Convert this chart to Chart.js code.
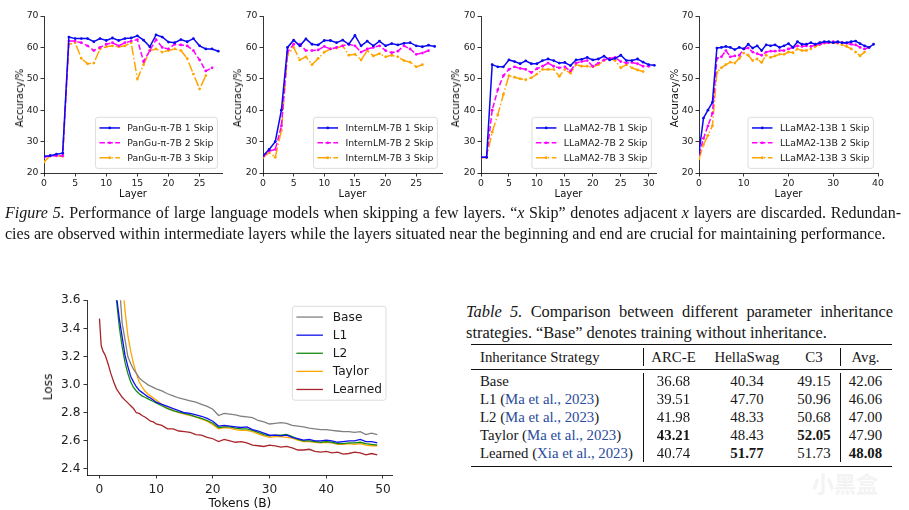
<!DOCTYPE html>
<html>
<head>
<meta charset="utf-8">
<script src="https://cdn.jsdelivr.net/npm/chart.js@4.4.0/dist/chart.umd.min.js"></script>
<style>
  html, body { margin: 0; padding: 0; background: #fff; }
  #page { position: relative; width: 909px; height: 510px; overflow: hidden; }
  canvas { position: absolute; }
  .lbl { position: absolute; font-family: "DejaVu Sans", sans-serif; color: #111; white-space: nowrap; line-height: 1; }
  .ylbl { transform: translate(-50%, -50%) rotate(-90deg); }
  .xlbl { transform: translate(-50%, -50%); }
  .serif { position: absolute; font-family: "Liberation Serif", "Times New Roman", serif; color: #161616; white-space: nowrap; }
  .just { text-align: justify; text-align-last: justify; white-space: normal; }
  .cite { color: #2a4b9c; }
  .rule { position: absolute; background: #111; }
  .num { position: absolute; transform: translateX(-50%); }
  .wm { position: absolute; font-family: "Noto Sans CJK SC", sans-serif; font-weight: 700; color: #f3f3f3; }
</style>
</head>
<body>
<div id="page">
  <canvas id="c1"></canvas>
  <canvas id="c2"></canvas>
  <canvas id="c3"></canvas>
  <canvas id="c4"></canvas>
  <canvas id="loss"></canvas>
</div>
<script>
// ---- Figure 5 data: accuracy per skipped layer ----
const accTicks = [20, 30, 40, 50, 60, 70];

const pangu1 = [25.3, 25.5, 26, 26.3, 63.3, 62.8, 62.8, 62.8, 61.8, 62.8, 62.2, 63, 62.2, 62.8, 63, 63.7, 62.3, 60.2, 64, 63.3, 61.7, 61.5, 62.5, 61.8, 62.8, 60.5, 59.5, 59.5, 58.8];
const pangu2 = [25, 25.5, 25.5, 25.5, 62, 62, 61.5, 60.5, 59, 60, 61, 61.5, 60.5, 61.5, 62, 62.5, 55.5, 59, 62.5, 60, 59.5, 61, 60.8, 60.5, 59, 56, 52.5, 53.5];
const pangu3 = [23.5, 25.5, 25.5, 25.3, 61, 61.5, 56.5, 54.8, 55, 59.5, 60.2, 60.5, 60.2, 60.5, 61.5, 50, 54.5, 59, 59.5, 58.5, 59, 59.5, 59, 56.5, 51.5, 46.8, 51];

const intern1 = [25.5, 27.5, 30, 40, 60, 62.3, 60.5, 62.7, 61, 60.8, 62.2, 62.2, 61.5, 62.3, 61, 63.8, 60.5, 62, 60.5, 62, 60.5, 61.2, 60.8, 61.3, 61.5, 60.5, 60.2, 60.7, 60.3];
const intern2 = [25.3, 27, 27.5, 35, 58.5, 61, 61, 59, 59, 59.2, 60.3, 59.5, 60, 60.5, 61, 60.5, 58.5, 59.5, 60, 60.5, 59, 58.3, 58.8, 60.5, 59.5, 57.8, 58.2, 59];
const intern3 = [25, 26.5, 25, 33.5, 57.5, 60, 56, 57, 54.5, 56.5, 58.5, 59.5, 59.8, 60.5, 57.5, 57.8, 56, 59, 57.3, 58, 57, 57.5, 57, 55.8, 55.3, 53.8, 54.5];

const llama7b1 = [25, 25, 54.5, 53.8, 53.8, 56, 55.5, 54.8, 55.7, 54.8, 54.8, 55.8, 56.3, 55.8, 55, 55.2, 54.2, 56, 56.2, 56.8, 56, 56.3, 57.2, 56, 56.5, 57.5, 55.8, 55.8, 56.3, 55.3, 54.5, 54.3];
const llama7b2 = [25, 25, 40, 46.5, 51, 53, 53.8, 53.3, 53, 52, 53.2, 54, 55, 54, 53.5, 53.8, 52.5, 55, 55.5, 55.8, 54, 55, 56, 56.5, 56.8, 55.5, 55, 55.2, 54.8, 54, 54];
const llama7b3 = [24.8, 25, 33, 38.5, 45, 51, 50.5, 50, 49.7, 50.3, 51.5, 53, 53, 53, 50.8, 53, 51.8, 54.5, 54, 54, 53.8, 54.5, 55.8, 56.5, 55.8, 53.5, 54.5, 53.5, 52.8, 52.3];

const llama13b1 = [26.5, 37.5, 40, 42.5, 59.8, 60, 60.3, 60, 59.3, 60, 59.5, 61, 59.8, 60.5, 59, 60.8, 60.5, 60.8, 60, 60.5, 61.2, 60, 61.8, 61, 61, 61.5, 61, 61.5, 61.8, 61.8, 61.5, 61.8, 61.5, 61.5, 61.8, 62, 61.2, 60.5, 60, 61];
const llama13b2 = [26, 31, 35, 39, 56.5, 57, 59, 57, 57.3, 57.5, 59.5, 59.8, 58.5, 58, 57.5, 58.5, 58.8, 58.8, 59, 59, 59.5, 60, 60.5, 60.3, 60.5, 60.3, 60.8, 61, 61.5, 61.5, 61.8, 61.5, 61.5, 61.3, 61, 60.8, 60, 59.5, 60];
const llama13b3 = [24.5, 29, 32, 35, 52, 53.5, 54.5, 55.3, 55, 56.5, 58.2, 57.5, 55.8, 56.3, 55.2, 57.5, 56.8, 57.3, 57.8, 57.8, 58.5, 58.3, 59.5, 59, 59, 59.5, 60.3, 61, 61.3, 61.5, 61.5, 61.3, 60.8, 60.3, 59.5, 58.5, 57.3, 58.5];

// ---- training loss curves ----
const lossTicksX = [0, 10, 20, 30, 40, 50];
const lossTicksY = [2.4, 2.6, 2.8, 3.0, 3.2, 3.4, 3.6];
const tokens = [0, 0.3, 0.6, 1, 1.5, 2, 2.5, 3, 3.5, 4, 4.5, 5, 5.5, 6, 6.5, 7, 7.5, 8, 8.5, 9, 9.5, 10,
  11, 12, 13, 14, 15, 16, 17, 18, 19, 20, 21, 22, 23, 24, 25, 26, 27, 28, 29, 30,
  31, 32, 33, 34, 35, 36, 37, 38, 39, 40, 41, 42, 43, 44, 45, 46, 47, 48, 49];
const lossBase = [null, null, null, null, null, null, null, null, 3.72, 3.44, 3.32, 3.2, 3.15, 3.11, 3.08, 3.05, 3.03, 3.015, 3.0, 2.99, 2.98, 2.97,
  2.955, 2.935, 2.92, 2.905, 2.895, 2.885, 2.875, 2.86, 2.845, 2.825, 2.78, 2.795, 2.79, 2.785, 2.775, 2.77, 2.765, 2.745, 2.735, 2.72,
  2.725, 2.73, 2.725, 2.71, 2.705, 2.7, 2.69, 2.685, 2.68, 2.68, 2.675, 2.67, 2.665, 2.665, 2.66, 2.665, 2.645, 2.655, 2.645];
const lossL1 = [null, null, null, null, null, null, 3.85, 3.63, 3.47, 3.34, 3.21, 3.13, 3.06, 3.02, 2.985, 2.96, 2.945, 2.93, 2.915, 2.905, 2.89, 2.875,
  2.86, 2.845, 2.83, 2.815, 2.8, 2.795, 2.785, 2.775, 2.76, 2.74, 2.705, 2.71, 2.705, 2.7, 2.695, 2.7, 2.68, 2.67, 2.655, 2.64,
  2.64, 2.635, 2.64, 2.625, 2.615, 2.605, 2.61, 2.6, 2.6, 2.605, 2.6, 2.59, 2.595, 2.6, 2.6, 2.61, 2.595, 2.595, 2.585];
const lossL2 = [null, null, null, null, null, null, 3.85, 3.6, 3.41, 3.27, 3.16, 3.08, 3.02, 2.98, 2.955, 2.935, 2.92, 2.91, 2.9, 2.89, 2.88, 2.87,
  2.85, 2.83, 2.815, 2.805, 2.795, 2.785, 2.77, 2.76, 2.745, 2.725, 2.695, 2.7, 2.7, 2.69, 2.685, 2.685, 2.675, 2.66, 2.645, 2.635,
  2.64, 2.64, 2.645, 2.63, 2.61, 2.6, 2.6, 2.595, 2.59, 2.595, 2.59, 2.58, 2.58, 2.585, 2.585, 2.59, 2.58, 2.575, 2.57];
const lossTaylor = [null, null, null, null, null, null, null, null, null, 3.75, 3.53, 3.35, 3.24, 3.15, 3.08, 3.02, 2.985, 2.955, 2.935, 2.92, 2.905, 2.89,
  2.86, 2.835, 2.815, 2.8, 2.79, 2.78, 2.77, 2.755, 2.74, 2.715, 2.685, 2.695, 2.69, 2.68, 2.675, 2.675, 2.665, 2.65, 2.635, 2.625,
  2.63, 2.63, 2.625, 2.62, 2.605, 2.595, 2.595, 2.59, 2.585, 2.59, 2.585, 2.575, 2.575, 2.58, 2.575, 2.58, 2.57, 2.565, 2.565];
const lossLearned = [3.47, 3.28, 3.24, 3.21, 3.15, 3.08, 3.02, 2.97, 2.94, 2.91, 2.89, 2.87, 2.85, 2.83, 2.8, 2.795, 2.78, 2.77, 2.755, 2.74, 2.735, 2.72,
  2.71, 2.685, 2.685, 2.67, 2.665, 2.66, 2.645, 2.64, 2.625, 2.615, 2.595, 2.61, 2.6, 2.59, 2.595, 2.585, 2.57, 2.565, 2.56, 2.57,
  2.565, 2.555, 2.56, 2.55, 2.535, 2.535, 2.54, 2.525, 2.52, 2.525, 2.515, 2.52, 2.505, 2.51, 2.52, 2.515, 2.5, 2.51, 2.5];

// ---- Table 5 ----
const strategies = ["Base", "L1", "L2", "Taylor", "Learned"];
const citations = ["", "Ma et al., 2023", "Ma et al., 2023", "Ma et al., 2023", "Xia et al., 2023"];
const tableCols = ["ARC-E", "HellaSwag", "C3", "Avg."];
const arcE = [36.68, 39.51, 41.98, 43.21, 40.74];
const hellaSwag = [40.34, 47.70, 48.33, 48.43, 51.77];
const c3 = [49.15, 50.96, 50.68, 52.05, 51.73];
const avgScore = [42.06, 46.06, 47.00, 47.90, 48.08];

(() => {
  const page = document.getElementById("page");

  // matplotlib-like dash patterns
  const DASH = [5.5, 2.4];
  const DASHDOT = [9.6, 2.4, 1.5, 2.4];

  function addDiv(cls, html, style) {
    const d = document.createElement("div");
    d.className = cls;
    d.innerHTML = html;
    Object.assign(d.style, style);
    page.appendChild(d);
    return d;
  }

  // legend drawn inside the axes with a rounded frame
  const boxLegend = {
    id: "boxLegend",
    afterDatasetsDraw(chart, args, o) {
      if (!o || !o.size) return;
      const ctx = chart.ctx;
      const area = chart.chartArea;
      const items = chart.data.datasets;
      ctx.save();
      ctx.font = `${o.size}px "DejaVu Sans"`;
      const textW = Math.max(...items.map((d) => ctx.measureText(d.label).width));
      const w = o.padX * 2 + o.handle + o.gap + textW;
      const h = o.padY * 2 + o.row * items.length;
      const x0 = area.right - o.inset - w;
      const y0 = o.corner === "upper right" ? area.top + o.inset : area.bottom - o.inset - h;

      ctx.beginPath();
      ctx.roundRect(x0, y0, w, h, 2.5);
      ctx.fillStyle = "rgba(255,255,255,0.85)";
      ctx.fill();
      ctx.strokeStyle = "#d4d4d4";
      ctx.lineWidth = 0.8;
      ctx.stroke();

      items.forEach((d, i) => {
        const cy = y0 + o.padY + o.row * (i + 0.5);
        const hx = x0 + o.padX;
        ctx.beginPath();
        ctx.setLineDash(d.borderDash || []);
        ctx.strokeStyle = d.borderColor;
        ctx.lineWidth = d.borderWidth;
        ctx.moveTo(hx, cy);
        ctx.lineTo(hx + o.handle, cy);
        ctx.stroke();
        ctx.setLineDash([]);
        if (d.pointRadius) {
          ctx.beginPath();
          ctx.fillStyle = d.borderColor;
          ctx.arc(hx + o.handle / 2, cy, d.pointRadius, 0, Math.PI * 2);
          ctx.fill();
        }
        ctx.fillStyle = "#1a1a1a";
        ctx.textBaseline = "middle";
        ctx.fillText(d.label, hx + o.handle + o.gap, cy + 0.5);
      });
      ctx.restore();
    },
  };

  function axis(c, fit) {
    return {
      type: "linear",
      min: c.min,
      max: c.max,
      afterBuildTicks: (s) => { s.ticks = c.ticks.map((v) => ({ value: v })); },
      afterFit: fit,
      border: { display: true, color: "#000", width: 0.8 },
      grid: { drawOnChartArea: false, drawTicks: true, tickLength: 3.5, tickWidth: 0.8, tickColor: "#000" },
      ticks: {
        color: "#222",
        font: { family: "DejaVu Sans", size: c.fs },
        padding: c.pad ?? 2,
        maxRotation: 0,
        autoSkip: false,
        callback: (v) => v.toFixed(c.dp || 0),
      },
    };
  }

  // box = plot area in page pixels, m = room around it for ticks
  function makeChart(id, box, m, datasets, xCfg, yCfg, legend) {
    const cv = document.getElementById(id);
    const w = box.r - box.l + m.l + m.r;
    const h = box.b - box.t + m.t + m.b;
    cv.width = w;
    cv.height = h;
    cv.style.left = box.l - m.l + "px";
    cv.style.top = box.t - m.t + "px";
    cv.style.width = w + "px";
    cv.style.height = h + "px";

    return new Chart(cv, {
      type: "line",
      data: { datasets },
      options: {
        responsive: false,
        animation: false,
        devicePixelRatio: 1,
        layout: { padding: { left: 0, top: m.t, right: m.r, bottom: 0 } },
        plugins: { legend: { display: false }, tooltip: { enabled: false }, boxLegend: legend },
        scales: {
          x: axis(xCfg, (s) => { s.height = m.b; }),
          y: axis(yCfg, (s) => { s.width = m.l; }),
        },
      },
      plugins: [boxLegend],
    });
  }

  function skipSet(name, series) {
    const styles = [
      { color: "#0a0af0", dash: [] },
      { color: "#ff00ff", dash: DASH },
      { color: "#ffa500", dash: DASHDOT },
    ];
    return series.map((arr, k) => ({
      label: `${name} ${k + 1} Skip`,
      data: arr.map((v, i) => ({ x: i, y: v })),
      borderColor: styles[k].color,
      backgroundColor: styles[k].color,
      borderDash: styles[k].dash,
      borderWidth: 1.5,
      pointRadius: 1.4,
      pointBorderWidth: 0,
      pointBackgroundColor: styles[k].color,
      tension: 0,
      fill: false,
    }));
  }

  const topM = { l: 24, t: 10, r: 10, b: 20 };
  const accY = { fs: 9.3, min: 20, max: 70, ticks: accTicks };
  const topLegend = { size: 9.3, handle: 20.5, gap: 7.4, padX: 4, padY: 3.2, row: 14.9, inset: 4.6, corner: "lower right" };

  const panels = [
    { id: "c1", name: "PanGu-π-7B", series: [pangu1, pangu2, pangu3], box: { l: 44, r: 222, t: 16, b: 173 }, xmax: 28.6, ticks: [0, 5, 10, 15, 20, 25], ylab: 20 },
    { id: "c2", name: "InternLM-7B", series: [intern1, intern2, intern3], box: { l: 263, r: 442, t: 16, b: 173 }, xmax: 29.2, ticks: [0, 5, 10, 15, 20, 25], ylab: 237.5 },
    { id: "c3", name: "LLaMA2-7B", series: [llama7b1, llama7b2, llama7b3], box: { l: 481, r: 656, t: 16, b: 173 }, xmax: 31.3, ticks: [0, 5, 10, 15, 20, 25, 30], ylab: 456 },
    { id: "c4", name: "LLaMA2-13B", series: [llama13b1, llama13b2, llama13b3], box: { l: 699, r: 878, t: 16, b: 173 }, xmax: 40, ticks: [0, 10, 20, 30, 40], ylab: 674.5 },
  ];

  panels.forEach((p) => {
    makeChart(p.id, p.box, topM, skipSet(p.name, p.series),
      { fs: 9.3, min: 0, max: p.xmax, ticks: p.ticks }, accY, topLegend);
    addDiv("lbl ylbl", "Accuracy/%", { left: p.ylab + "px", top: "98px", fontSize: "10px" });
    addDiv("lbl xlbl", "Layer", { left: (p.box.l + p.box.r) / 2 + "px", top: "194px", fontSize: "10px" });
  });

  // loss chart
  const lossColors = ["#808080", "#1010f0", "#138a13", "#ffa500", "#a8262a"];
  const lossSeries = [["Base", lossBase], ["L1", lossL1], ["L2", lossL2], ["Taylor", lossTaylor], ["Learned", lossLearned]];
  const lossSets = lossSeries.map(([label, arr], k) => ({
    label,
    data: arr.map((v, i) => ({ x: tokens[i], y: v })),
    borderColor: lossColors[k],
    backgroundColor: lossColors[k],
    borderWidth: 1.3,
    pointRadius: 0,
    tension: 0,
    spanGaps: false,
    fill: false,
  }));
  makeChart("loss", { l: 87, r: 392, t: 300, b: 475 }, { l: 40, t: 10, r: 12, b: 24 }, lossSets,
    { fs: 12.2, min: -2.2, max: 51.6, ticks: lossTicksX, pad: 4 },
    { fs: 12.2, min: 2.357, max: 3.6, ticks: lossTicksY, dp: 1, pad: 3 },
    { size: 12.2, handle: 26.5, gap: 9.8, padX: 4, padY: 1.7, row: 18.1, inset: 6, corner: "upper right" });
  addDiv("lbl ylbl", "Loss", { left: "48px", top: "387px", fontSize: "12.2px" });
  addDiv("lbl xlbl", "Tokens (B)", { left: "240px", top: "503px", fontSize: "12.2px" });

  // figure caption
  addDiv("serif just",
    '<i>Figure 5.</i> Performance of large language models when skipping a few layers. “<i>x</i> Skip” denotes adjacent <i>x</i> layers are discarded. Redundan-',
    { left: "5px", top: "203px", width: "896px", fontSize: "16px", lineHeight: "20px", height: "20px", overflow: "hidden" });
  addDiv("serif",
    "cies are observed within intermediate layers while the layers situated near the beginning and end are crucial for maintaining performance.",
    { left: "5px", top: "224px", fontSize: "16px", lineHeight: "20px" });

  // table caption
  addDiv("serif just", "<i>Table 5.</i> Comparison between different parameter inheritance",
    { left: "466px", top: "302px", width: "427px", fontSize: "16.4px", lineHeight: "20px", height: "20px", overflow: "hidden" });
  addDiv("serif", "strategies. “Base” denotes training without inheritance.",
    { left: "466px", top: "323px", fontSize: "16.4px", lineHeight: "20px" });

  // table rules
  addDiv("rule", "", { left: "471px", top: "343.5px", width: "421px", height: "1.2px" });
  addDiv("rule", "", { left: "471px", top: "368.6px", width: "421px", height: "0.8px" });
  addDiv("rule", "", { left: "471px", top: "465.5px", width: "421px", height: "1.2px" });
  [643.3, 840].forEach((x) => {
    addDiv("rule", "", { left: x + "px", top: "348px", width: "0.8px", height: "18px" });
    addDiv("rule", "", { left: x + "px", top: "373px", width: "0.8px", height: "89px" });
  });

  const colX = [673.5, 747, 814, 865.5];
  const rowY = [381.3, 399.3, 417, 434.7, 452.7];
  const tfs = "14.8px";
  addDiv("serif", "Inheritance Strategy", { left: "480px", top: 356.7 - 9 + "px", fontSize: tfs, lineHeight: "18px" });
  tableCols.forEach((c, j) => {
    addDiv("serif num", c, { left: colX[j] + "px", top: 356.7 - 9 + "px", fontSize: tfs, lineHeight: "18px" });
  });
  const cols = [arcE, hellaSwag, c3, avgScore];
  strategies.forEach((s, i) => {
    const cite = citations[i] ? ` (<span class="cite">${citations[i]}</span>)` : "";
    addDiv("serif", s + cite, { left: "480px", top: rowY[i] - 9 + "px", fontSize: tfs, lineHeight: "18px" });
    cols.forEach((arr, j) => {
      const best = arr[i] === Math.max(...arr);
      addDiv("serif num", best ? `<b>${arr[i].toFixed(2)}</b>` : arr[i].toFixed(2),
        { left: colX[j] + "px", top: rowY[i] - 9 + "px", fontSize: tfs, lineHeight: "18px" });
    });
  });

  // faint site watermark
  addDiv("wm", "小黑盒", { left: "812px", top: "466px", fontSize: "22px" });
})();
</script>
</body>
</html>
